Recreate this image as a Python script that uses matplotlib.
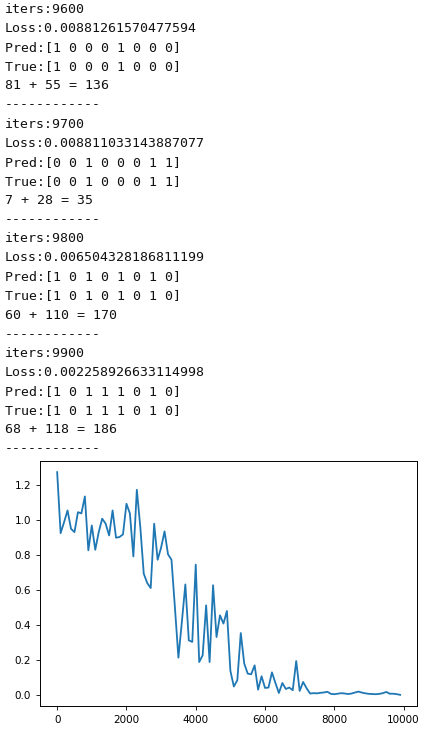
import matplotlib
matplotlib.use('Agg')
from matplotlib import pyplot as plt

# printed log lines above the plot
log_iters = [9600, 9700, 9800, 9900]
log_loss = ['0.00881261570477594', '0.008811033143887077',
            '0.006504328186811199', '0.002258926633114998']
log_pred = ['[1 0 0 0 1 0 0 0]', '[0 0 1 0 0 0 1 1]',
            '[1 0 1 0 1 0 1 0]', '[1 0 1 1 1 0 1 0]']
log_true = log_pred
log_sums = ['81 + 55 = 136', '7 + 28 = 35', '60 + 110 = 170', '68 + 118 = 186']

# loss history, one value every 100 iterations
iters = list(range(0, 10000, 100))
loss = [1.276, 0.927, 0.99, 1.057, 0.952, 0.933, 1.047, 1.04, 1.137, 0.829,
        0.971, 0.832, 0.933, 1.01, 0.981, 0.914, 1.057, 0.901, 0.905, 0.92,
        1.095, 1.04, 0.794, 1.175, 0.962, 0.695, 0.642, 0.613, 0.981, 0.775,
        0.844, 0.937, 0.806, 0.775, 0.50, 0.215, 0.42, 0.634, 0.314, 0.305,
        0.747, 0.19, 0.229, 0.514, 0.19, 0.629, 0.333, 0.457, 0.41, 0.482,
        0.14, 0.05, 0.086, 0.356, 0.181, 0.124, 0.12, 0.171, 0.032, 0.109,
        0.042, 0.044, 0.131, 0.07, 0.013, 0.07, 0.036, 0.044, 0.029, 0.196,
        0.025, 0.076, 0.04, 0.01, 0.012, 0.011, 0.014, 0.016, 0.02, 0.008,
        0.006, 0.009, 0.012, 0.01, 0.007, 0.01, 0.016, 0.021, 0.015, 0.011,
        0.008, 0.007, 0.006, 0.008, 0.012, 0.019, 0.0088, 0.0088, 0.0065, 0.0023]

W, H = 436, 729
fig = plt.figure(figsize=(W / 100, H / 100), dpi=100)

# text output, positioned in pixels from the top
line_h = 19.1
y = 13
for i in range(len(log_iters)):
    lines = ['iters:%d' % log_iters[i],
             'Loss:' + log_loss[i],
             'Pred:' + log_pred[i],
             'True:' + log_true[i],
             log_sums[i],
             '------------']
    for ln in lines:
        fig.text(5 / W, 1 - y / H, ln, family='DejaVu Sans Mono', fontsize=9.5,
                 va='baseline', ha='left', color='#111111')
        y += line_h

ax = fig.add_axes([40 / W, 1 - 706 / H, (417.3 - 40) / W, (706 - 461) / H])
ax.plot(iters, loss, color='#1f77b4', linewidth=1.3)
ax.set_xticks([0, 2000, 4000, 6000, 8000, 10000])
ax.set_yticks([0.0, 0.2, 0.4, 0.6, 0.8, 1.0, 1.2])
ax.tick_params(labelsize=7.5, length=3, width=0.6)
for s in ax.spines.values():
    s.set_linewidth(0.7)

plt.savefig('out.png', dpi=100)
